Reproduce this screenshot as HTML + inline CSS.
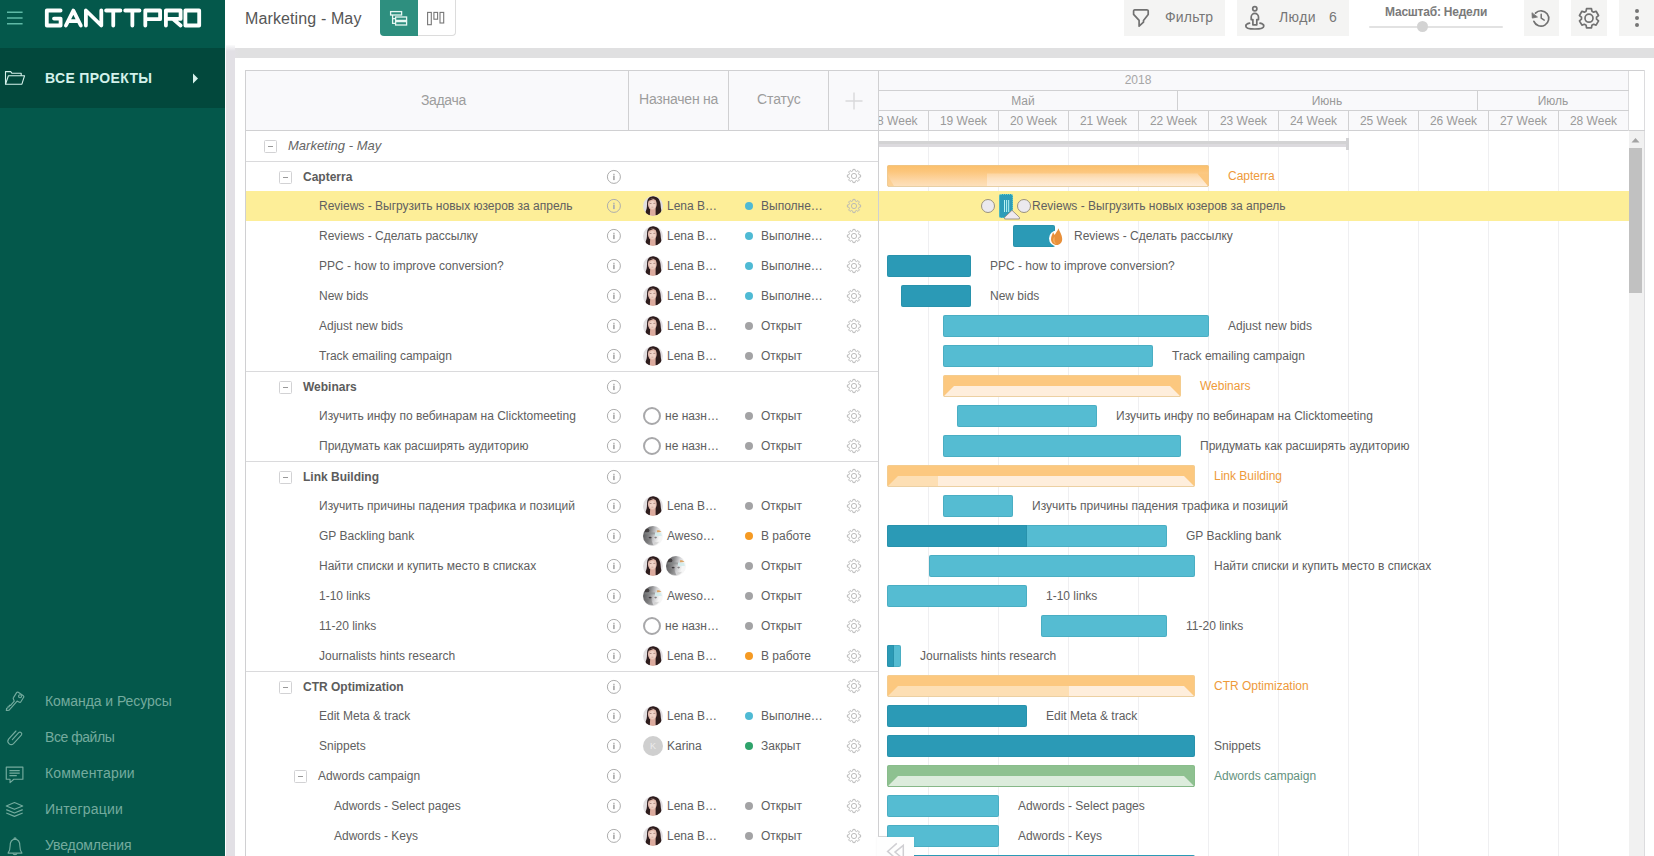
<!DOCTYPE html><html><head><meta charset="utf-8"><title>GanttPRO</title><style>
*{box-sizing:border-box;margin:0;padding:0}
html,body{width:1654px;height:856px;overflow:hidden;background:#fff}
body{font-family:"Liberation Sans",sans-serif;font-size:12px;color:#5a5a5a;position:relative}
.abs{position:absolute}
.t{position:absolute;white-space:nowrap;line-height:1}
#side{position:absolute;left:0;top:0;width:225px;height:856px;background:#04584b}
#side .band{position:absolute;left:0;top:48px;width:225px;height:60px;background:#02483c}
#side .mi{position:absolute;left:45px;color:#74ab9e;font-size:14px;white-space:nowrap;line-height:1}
#vstrip{position:absolute;left:226px;top:45px;width:9px;height:811px;background:linear-gradient(to bottom,#fbfbfc 0,#e2e0e5 6px)}
#hstrip{position:absolute;left:235px;top:48px;width:1419px;height:10px;background:linear-gradient(to right,#e2e1e4 0,#e0e0e1 6px)}
.tb{position:absolute;top:0;height:36px;background:#f4f4f3}
.hdr{position:absolute;background:#f9f9fb}
.vl{position:absolute;width:1px;background:#d0d0d2}
.hl{position:absolute;height:1px;background:#d0d0d2}
.row{position:absolute;left:246px;width:632px;height:30px}
.rt{position:absolute;top:9px;white-space:nowrap;line-height:12px;font-size:12px;color:#606060}
.b{font-weight:bold;color:#5c5c5c}
.exp{position:absolute;top:8.5px;width:13px;height:13px;border:1px solid #d2d2d4;border-radius:1.5px;background:#fff}
.exp:after{content:"";position:absolute;left:3px;top:5px;width:5px;height:1px;background:#999}
.dot{position:absolute;left:499px;top:11px;width:8px;height:8px;border-radius:50%}
.ic{position:absolute}
.av{width:20px;height:20px;border-radius:50%;overflow:hidden}
.av svg{display:block}
.bar{position:absolute;height:22px;border-radius:2px;box-shadow:inset 0 0 0 1px rgba(30,110,130,0.18)}
.lt{background:#55bcd2}
.dk{background:#2b9ab6}
.bl{position:absolute;white-space:nowrap;line-height:12px;font-size:12px;color:#606060}
.gl{position:absolute;top:131px;width:1px;height:725px;background:#efeff1}
.wk{position:absolute;top:115px;font-size:12px;color:#9a9a9a;text-align:center;white-space:nowrap;line-height:12px}
</style></head><body>
<svg width="0" height="0" style="position:absolute"><defs><linearGradient id="gb" x1="0" y1="0" x2="1" y2="0.25"><stop offset="0" stop-color="#4a4a4c"/><stop offset="0.4" stop-color="#858587"/><stop offset="0.68" stop-color="#d2d2d4"/><stop offset="0.9" stop-color="#f6f6f6"/></linearGradient><linearGradient id="pg1" x1="0" y1="0" x2="0" y2="1"><stop offset="0" stop-color="#fbbf6a"/><stop offset="0.3" stop-color="#fcc67c"/><stop offset="0.7" stop-color="#fdd7a6"/><stop offset="1" stop-color="#fde1be"/></linearGradient><linearGradient id="pg2" x1="0" y1="0" x2="0" y2="1"><stop offset="0" stop-color="#fdd5a0"/><stop offset="0.4" stop-color="#fde2bf"/><stop offset="1" stop-color="#feedda"/></linearGradient><filter id="bl" x="-10%" y="-10%" width="120%" height="120%"><feGaussianBlur stdDeviation="0.45"/></filter></defs></svg>
<div id="side"><div class="band"></div>
<svg class="abs" style="left:6px;top:10px" width="18" height="16" viewBox="0 0 18 16"><g stroke="#5fb9a6" stroke-width="1.5"><path d="M1 2.2h15.6M1 8h15.6M1 13.8h15.6"/></g></svg>
<svg class="abs" style="left:0;top:0" width="225" height="40" viewBox="0 0 225 40" fill="none" stroke="#fdfffe" stroke-width="3.8" stroke-linejoin="round" stroke-linecap="round"><path d="M60.6 10.5H46.8V25.5H60.6V18.6H54M65.9 25.5L73.35 10.6L80.8 25.5M69.4 21.2H77.3M85.9 25.5V10.5L101.3 25.5V10.5M106.1 10.5H120.4M113.25 10.5V25.5M125.2 10.5H139.5M132.35 10.5V25.5M145.3 25.5V10.5H160.1V19.2H145.3M165.9 25.5V10.5H180.6V18.9H165.9M172.8 18.9L180.6 25.5M185.4 10.5H199.2V25.5H185.4Z"/></svg>
<svg class="abs" style="left:4px;top:70px" width="22" height="16" viewBox="0 0 22 16" fill="none" stroke="#d6f2ec" stroke-width="1.1" stroke-linejoin="round"><path d="M1.5 14.2V1.6h5.2l1.3 1.7h9.2v2.4"/><path d="M1.5 14.2L4.4 5.7h16.2l-2.7 8.5z"/></svg>
<div class="t" id="allp" style="left:45px;top:71px;font-size:14px;font-weight:bold;color:#d3f1ea;letter-spacing:0.35px">ВСЕ ПРОЕКТЫ</div>
<svg class="abs" style="left:192px;top:73px" width="7" height="11" viewBox="0 0 7 11"><path d="M1 0.5L6 5.5L1 10.5z" fill="#d6f2ec"/></svg>
<svg class="abs" style="left:5px;top:691px" width="20" height="20" viewBox="0 0 19 19"><g fill="none" stroke="#74ab9e" stroke-width="1.1" stroke-linejoin="round"><path d="M12.6 1.2l4.8 3.4c0.5 0.4 0.6 0.9 0.3 1.4l-2.6 4.2c-0.3 0.5-0.9 0.6-1.4 0.4l-2.2-1-7.6 8.6-2.6 0.4 0.2-2.2 1.2-0.2 0.1-1.2 1.2-0.1 0.1-1.2 1.2-0.1 3.5-4-0.9-2.2c-0.2-0.5 0-1 0.3-1.4l2.8-4.4c0.4-0.6 1-0.7 1.6-0.4z"/><circle cx="14.3" cy="5" r="1.4"/></g></svg>
<div class="mi" style="top:694px;letter-spacing:-0.07px">Команда и Ресурсы</div>
<svg class="abs" style="left:5px;top:727px" width="20" height="20" viewBox="0 0 19 19"><g fill="none" stroke="#74ab9e" stroke-width="1.1" stroke-linecap="round"><path d="M7 12l6-6.6a1.7 1.7 0 0 1 2.5 2.3l-7.4 8.1a3.2 3.2 0 0 1-4.7-4.3l7-7.7"/></g></svg>
<div class="mi" style="top:730px;letter-spacing:-0.45px">Все файлы</div>
<svg class="abs" style="left:5px;top:766px" width="20" height="20" viewBox="0 0 19 19"><g fill="none" stroke="#74ab9e" stroke-width="1.1" stroke-linejoin="round"><path d="M1.2 1h15.8v11.6H8.4L4.8 15.8V12.6H1.2z"/><path d="M4.2 4.4h9.8M4.2 6.8h9.8M4.2 9.2h7"/></g></svg>
<div class="mi" style="top:766px;letter-spacing:0.15px">Комментарии</div>
<svg class="abs" style="left:5px;top:801px" width="20" height="20" viewBox="0 0 19 19"><g fill="none" stroke="#74ab9e" stroke-width="1.1" stroke-linejoin="round"><path d="M9 1.5l7.8 3.2-7.8 3.2-7.8-3.2z"/><path d="M1.2 8.2l7.8 3.2 7.8-3.2M1.2 11.4l7.8 3.2 7.8-3.2"/></g></svg>
<div class="mi" style="top:802px;letter-spacing:0.18px">Интеграции</div>
<svg class="abs" style="left:5px;top:836px" width="20" height="20" viewBox="0 0 19 19"><g fill="none" stroke="#74ab9e" stroke-width="1.1" stroke-linejoin="round"><path d="M9.5 3c3.2 0.4 4.6 2.8 4.6 6.2 0 3.2 0.8 5.4 2 7H2.9c1.2-1.6 2-3.8 2-7 0-3.4 1.4-5.800 4.6-6.2z"/><path d="M8.5 2.800c0-1.400 2-1.400 2 0"/><path d="M7.600 16.400c0.200 1.800 3.600 1.800 3.800 0"/></g></svg>
<div class="mi" style="top:838px;letter-spacing:-0.1px">Уведомления</div>
</div>
<div id="vstrip"></div><div id="hstrip"></div>
<div class="t" id="title" style="left:245px;top:9.5px;letter-spacing:0.12px;font-size:16px;color:#565656;line-height:18px">Marketing - May</div>
<div class="abs" style="left:380px;top:0;width:38px;height:36px;background:#2e8f7f;border-radius:0 0 0 4px"></div>
<div class="abs" style="left:418px;top:0;width:38px;height:36px;background:#fff;border:1px solid #dcdcdc;border-left:none;border-top:none;border-radius:0 0 4px 0"></div>
<svg class="abs" style="left:389px;top:9px" width="20" height="18" viewBox="0 0 20 18" fill="none" stroke="#e6f7f3" stroke-width="1.3"><rect x="1.6" y="2.6" width="11" height="3.4"/><rect x="6.6" y="8" width="11" height="3.4"/><rect x="6.6" y="12.6" width="11" height="3.4"/><path d="M3.6 6v8.3h3M3.6 9.7h3"/></svg>
<svg class="abs" style="left:426px;top:10px" width="20" height="16" viewBox="0 0 20 16" fill="none" stroke="#777" stroke-width="1.1"><rect x="1.6" y="2.4" width="3.7" height="12.3"/><rect x="7.9" y="2.4" width="3.7" height="6.800"/><rect x="14" y="2.4" width="3.7" height="10.600"/></svg>
<div class="tb" style="left:1124px;width:101px"></div>
<div class="t" id="filt" style="left:1165px;top:9px;letter-spacing:0.2px;font-size:14px;color:#777;line-height:16px">Фильтр</div>
<div class="tb" style="left:1237px;width:112px"></div>
<div class="t" id="ppl" style="left:1279px;top:9px;letter-spacing:0.4px;font-size:14px;color:#777;line-height:16px">Люди</div>
<div class="t" id="six" style="left:1329px;top:9px;font-size:14px;color:#777;line-height:16px">6</div>
<div class="t" id="scale" style="left:1385px;top:5px;font-size:12px;font-weight:bold;letter-spacing:-0.22px;color:#7a7a7a;line-height:14px">Масштаб: Недели</div>
<div class="abs" style="left:1369px;top:26px;width:134px;height:2px;background:#e2e2e2;border-radius:1px"></div>
<div class="abs" style="left:1417px;top:21px;width:11px;height:11px;background:#d3d3d3;border-radius:50%"></div>
<div class="tb" style="left:1524px;width:35px"></div>
<div class="tb" style="left:1571px;width:36px"></div>
<svg class="abs" style="left:1577px;top:6px" width="24" height="24" viewBox="0 0 24 24" fill="none" stroke="#717171" stroke-width="1.7" stroke-linejoin="round"><path d="M9.09 5.18 L9.54 2.61 L14.46 2.61 L14.91 5.18 L16.63 6.17 L19.07 5.27 L21.54 9.54 L19.53 11.21 L19.53 13.19 L21.54 14.86 L19.07 19.13 L16.63 18.23 L14.91 19.22 L14.46 21.79 L9.54 21.79 L9.09 19.22 L7.37 18.23 L4.93 19.13 L2.46 14.86 L4.47 13.19 L4.47 11.21 L2.46 9.54 L4.93 5.27 L7.37 6.17Z"/><circle cx="12" cy="12.2" r="4"/></svg>
<div class="tb" style="left:1619px;width:35px"></div>
<div class="abs" style="left:1634.8px;top:8.600000000000001px;width:4.4px;height:4.4px;border-radius:50%;background:#757575"></div>
<div class="abs" style="left:1634.8px;top:15.8px;width:4.4px;height:4.4px;border-radius:50%;background:#757575"></div>
<div class="abs" style="left:1634.8px;top:22.900000000000002px;width:4.4px;height:4.4px;border-radius:50%;background:#757575"></div>
<svg class="abs" style="left:1124px;top:0" width="530" height="40" viewBox="1124 0 530 40" fill="none" stroke="#717171" stroke-width="1.7" stroke-linejoin="round" stroke-linecap="round"><path d="M1135 9.8h11.8a1.4 1.4 0 0 1 1.4 1.4v3.2l-4.7 6v1.8l-4.4 4v-5.8l-5.5-6v-3.2a1.4 1.4 0 0 1 1.4-1.4z"/><circle cx="1254.8" cy="8.8" r="2.1"/><path d="M1251.2 19.6v-2.5a3.65 3.65 0 0 1 7.3 0v2.5h-1.7v5.2h-3.9v-5.2z"/><path d="M1249.6 23.2c-2.6 0.6-3.8 1.6-3.8 2.7 0 1.9 4 3.1 9 3.1s9-1.2 9-3.1c0-1.1-1.2-2.1-3.8-2.7"/><path d="M1533.9 21.4a7.7 7.7 0 1 0 1.6-8.3"/><path d="M1532 13.1l0.3 5 4.8-1z" fill="#717171" stroke-width="0.8"/><path d="M1541.2 14.2v4l3 1.9" stroke-width="1.5"/></svg>
<div class="hdr" style="left:246px;top:71px;width:633px;height:59px"></div>
<div class="hdr" style="left:879px;top:71px;width:750px;height:59px"></div>
<div class="abs" style="left:1629px;top:131px;width:15px;height:725px;background:#f1f1f1"></div>
<div class="abs" style="left:1629px;top:148px;width:13px;height:145px;background:#c1c1c1"></div>
<svg class="abs" style="left:1631px;top:137px" width="9" height="6" viewBox="0 0 9 6"><path d="M0.5 5.5L4.5 1L8.5 5.5z" fill="#a3a3a3"/></svg>
<div class="gl" style="left:928px"></div>
<div class="gl" style="left:998px"></div>
<div class="gl" style="left:1068px"></div>
<div class="gl" style="left:1138px"></div>
<div class="gl" style="left:1208px"></div>
<div class="gl" style="left:1278px"></div>
<div class="gl" style="left:1348px"></div>
<div class="gl" style="left:1418px"></div>
<div class="gl" style="left:1488px"></div>
<div class="gl" style="left:1558px"></div>
<div class="abs" style="left:246px;top:191px;width:1383px;height:30px;background:#fdee98"></div>
<div class="hl" style="left:245px;top:70px;width:1400px"></div>
<div class="vl" style="left:245px;top:70px;height:786px"></div>
<div class="vl" style="left:1644px;top:70px;height:786px;background:#dcdcde"></div>
<div class="hl" style="left:245px;top:130px;width:1400px"></div>
<div class="vl" style="left:628px;top:71px;height:59px"></div>
<div class="vl" style="left:728px;top:71px;height:59px"></div>
<div class="vl" style="left:828px;top:71px;height:59px"></div>
<div class="vl" style="left:878px;top:70px;height:786px"></div>
<div class="vl" style="left:1628px;top:71px;height:60px;background:#dcdcde"></div>
<div class="hl" style="left:879px;top:90px;width:750px"></div>
<div class="hl" style="left:879px;top:110px;width:750px"></div>
<div class="vl" style="left:1177px;top:91px;height:19px"></div>
<div class="vl" style="left:1477px;top:91px;height:19px"></div>
<div class="vl" style="left:928px;top:111px;height:19px"></div>
<div class="vl" style="left:998px;top:111px;height:19px"></div>
<div class="vl" style="left:1068px;top:111px;height:19px"></div>
<div class="vl" style="left:1138px;top:111px;height:19px"></div>
<div class="vl" style="left:1208px;top:111px;height:19px"></div>
<div class="vl" style="left:1278px;top:111px;height:19px"></div>
<div class="vl" style="left:1348px;top:111px;height:19px"></div>
<div class="vl" style="left:1418px;top:111px;height:19px"></div>
<div class="vl" style="left:1488px;top:111px;height:19px"></div>
<div class="vl" style="left:1558px;top:111px;height:19px"></div>
<div class="t" id="h1" style="left:421px;top:92px;letter-spacing:-0.35px;font-size:14px;color:#9d9d9d;line-height:16px">Задача</div>
<div class="t" id="h2" style="left:639px;top:91px;letter-spacing:-0.22px;font-size:14px;color:#9d9d9d;line-height:16px">Назначен на</div>
<div class="t" id="h3" style="left:757px;top:91px;letter-spacing:-0.1px;font-size:14px;color:#9d9d9d;line-height:16px">Статус</div>
<svg class="abs" style="left:845px;top:92px" width="18" height="18" viewBox="0 0 18 18"><path d="M9 0.5v17M0.5 9h17" stroke="#d9d9db" stroke-width="1.4"/></svg>
<div class="wk" style="left:1108px;width:60px;top:74px;color:#a6a6a6">2018</div>
<div class="wk" style="left:993px;width:60px;top:95px">Май</div>
<div class="wk" style="left:1297px;width:60px;top:95px">Июнь</div>
<div class="wk" style="left:1523px;width:60px;top:95px">Июль</div>
<div class="abs" style="left:879px;top:111px;width:49px;height:19px;overflow:hidden"><div class="wk" style="left:-20px;width:70px;top:4px">18 Week</div></div>
<div class="wk" style="left:929px;width:69px">19 Week</div>
<div class="wk" style="left:999px;width:69px">20 Week</div>
<div class="wk" style="left:1069px;width:69px">21 Week</div>
<div class="wk" style="left:1139px;width:69px">22 Week</div>
<div class="wk" style="left:1209px;width:69px">23 Week</div>
<div class="wk" style="left:1279px;width:69px">24 Week</div>
<div class="wk" style="left:1349px;width:69px">25 Week</div>
<div class="wk" style="left:1419px;width:69px">26 Week</div>
<div class="wk" style="left:1489px;width:69px">27 Week</div>
<div class="wk" style="left:1559px;width:69px">28 Week</div>
<div class="row" style="top:131px"><div class="exp" style="left:18px"></div><div class="rt" style="left:42px;top:8px;font-size:13px;line-height:13px;font-style:italic;color:#666">Marketing - May</div></div>
<div class="hl" style="left:246px;top:161px;width:632px;background:#dadadc"></div>
<div class="row" style="top:161px"><div class="exp" style="left:33px;top:9.5px"></div><div class="rt b" style="left:57px;top:10px">Capterra</div><svg class="ic" style="left:360px;top:8px" width="16" height="16" viewBox="0 0 16 16"><circle cx="7.900" cy="7.900" r="6.500" fill="none" stroke="#adadad" stroke-width="1"/><rect x="7" y="6.600" width="1.800" height="4.500" fill="#b0b0b0"/><rect x="7" y="4.800" width="1.800" height="1" fill="#b0b0b0"/></svg><svg class="ic" style="left:600px;top:7px" width="16" height="16" viewBox="0 0 16 16" fill="none" stroke="#b6b6b6" stroke-width="0.9" stroke-linejoin="round"><path d="M6.74 2.96 L6.95 1.38 L9.05 1.38 L9.26 2.96 L10.67 3.54 L11.94 2.58 L13.42 4.06 L12.46 5.33 L13.04 6.74 L14.62 6.95 L14.62 9.05 L13.04 9.26 L12.46 10.67 L13.42 11.94 L11.94 13.42 L10.67 12.46 L9.26 13.04 L9.05 14.62 L6.95 14.62 L6.74 13.04 L5.33 12.46 L4.06 13.42 L2.58 11.94 L3.54 10.67 L2.96 9.26 L1.38 9.05 L1.38 6.95 L2.96 6.74 L3.54 5.33 L2.58 4.06 L4.06 2.58 L5.33 3.54Z"/><circle cx="8" cy="8" r="2.6"/></svg></div>
<div class="row" style="top:191px"><div class="rt" style="left:73px">Reviews - Выгрузить новых юзеров за апрель</div><svg class="ic" style="left:360px;top:7px" width="16" height="16" viewBox="0 0 16 16"><circle cx="7.900" cy="7.900" r="6.500" fill="none" stroke="#adadad" stroke-width="1"/><rect x="7" y="6.600" width="1.800" height="4.500" fill="#b0b0b0"/><rect x="7" y="4.800" width="1.800" height="1" fill="#b0b0b0"/></svg><svg class="ic" style="left:600px;top:7px" width="16" height="16" viewBox="0 0 16 16" fill="none" stroke="#b6b6b6" stroke-width="0.9" stroke-linejoin="round"><path d="M6.74 2.96 L6.95 1.38 L9.05 1.38 L9.26 2.96 L10.67 3.54 L11.94 2.58 L13.42 4.06 L12.46 5.33 L13.04 6.74 L14.62 6.95 L14.62 9.05 L13.04 9.26 L12.46 10.67 L13.42 11.94 L11.94 13.42 L10.67 12.46 L9.26 13.04 L9.05 14.62 L6.95 14.62 L6.74 13.04 L5.33 12.46 L4.06 13.42 L2.58 11.94 L3.54 10.67 L2.96 9.26 L1.38 9.05 L1.38 6.95 L2.96 6.74 L3.54 5.33 L2.58 4.06 L4.06 2.58 L5.33 3.54Z"/><circle cx="8" cy="8" r="2.6"/></svg><div class="ic av" style="left:397px;top:5px"><svg width="20" height="20" viewBox="0 0 20 20"><rect width="20" height="20" fill="#e2dfe1"/><g filter="url(#bl)"><path d="M9.8 0.2C6 0.2 4.3 3.2 4.1 6.6c-0.2 3.4 0 5.4-0.9 7.4-1.2 2.4-0.6 4.6 1.8 5.6h11c2.4-1 2.8-3.6 2.2-6-0.6-2.6-0.4-5-1.2-7.8C16.2 2.4 13.6 0.2 9.8 0.2z" fill="#2d1c1f"/><path d="M7.2 12.4h5.4V20H6.8z" fill="#dcab9e"/><ellipse cx="9.4" cy="8.1" rx="4.5" ry="5.9" fill="#e3baad"/><ellipse cx="9.5" cy="8.8" rx="3" ry="3.9" fill="#efd3c9"/><path d="M13 2.6c1 2.4 1.1 8.2 0.2 11.6l1.2 0.4c1.2-4 0.8-9.6-0.4-12.2z" fill="#2d1c1f"/><path d="M5.4 4.6c1-1.6 2.6-2.4 4.2-2.4 1.6 0 2.8 0.5 3.6 1.7-1.2-0.1-2.3-0.4-3-0.9-1.2 0.9-3.2 1.4-4.8 1.6z" fill="#3a2626"/><ellipse cx="7.6" cy="7.5" rx="1.1" ry="0.5" fill="#a8857e"/><ellipse cx="11.3" cy="7.3" rx="1.1" ry="0.5" fill="#a8857e"/><ellipse cx="9.4" cy="11.1" rx="1.5" ry="0.45" fill="#c4948b"/></g></svg></div><div class="rt" style="left:421px">Lena B…</div><div class="dot" style="background:#4fbad4"></div><div class="rt" style="left:515px">Выполне…</div></div>
<div class="row" style="top:221px"><div class="rt" style="left:73px">Reviews - Сделать рассылку</div><svg class="ic" style="left:360px;top:7px" width="16" height="16" viewBox="0 0 16 16"><circle cx="7.900" cy="7.900" r="6.500" fill="none" stroke="#adadad" stroke-width="1"/><rect x="7" y="6.600" width="1.800" height="4.500" fill="#b0b0b0"/><rect x="7" y="4.800" width="1.800" height="1" fill="#b0b0b0"/></svg><svg class="ic" style="left:600px;top:7px" width="16" height="16" viewBox="0 0 16 16" fill="none" stroke="#b6b6b6" stroke-width="0.9" stroke-linejoin="round"><path d="M6.74 2.96 L6.95 1.38 L9.05 1.38 L9.26 2.96 L10.67 3.54 L11.94 2.58 L13.42 4.06 L12.46 5.33 L13.04 6.74 L14.62 6.95 L14.62 9.05 L13.04 9.26 L12.46 10.67 L13.42 11.94 L11.94 13.42 L10.67 12.46 L9.26 13.04 L9.05 14.62 L6.95 14.62 L6.74 13.04 L5.33 12.46 L4.06 13.42 L2.58 11.94 L3.54 10.67 L2.96 9.26 L1.38 9.05 L1.38 6.95 L2.96 6.74 L3.54 5.33 L2.58 4.06 L4.06 2.58 L5.33 3.54Z"/><circle cx="8" cy="8" r="2.6"/></svg><div class="ic av" style="left:397px;top:5px"><svg width="20" height="20" viewBox="0 0 20 20"><rect width="20" height="20" fill="#e2dfe1"/><g filter="url(#bl)"><path d="M9.8 0.2C6 0.2 4.3 3.2 4.1 6.6c-0.2 3.4 0 5.4-0.9 7.4-1.2 2.4-0.6 4.6 1.8 5.6h11c2.4-1 2.8-3.6 2.2-6-0.6-2.6-0.4-5-1.2-7.8C16.2 2.4 13.6 0.2 9.8 0.2z" fill="#2d1c1f"/><path d="M7.2 12.4h5.4V20H6.8z" fill="#dcab9e"/><ellipse cx="9.4" cy="8.1" rx="4.5" ry="5.9" fill="#e3baad"/><ellipse cx="9.5" cy="8.8" rx="3" ry="3.9" fill="#efd3c9"/><path d="M13 2.6c1 2.4 1.1 8.2 0.2 11.6l1.2 0.4c1.2-4 0.8-9.6-0.4-12.2z" fill="#2d1c1f"/><path d="M5.4 4.6c1-1.6 2.6-2.4 4.2-2.4 1.6 0 2.8 0.5 3.6 1.7-1.2-0.1-2.3-0.4-3-0.9-1.2 0.9-3.2 1.4-4.8 1.6z" fill="#3a2626"/><ellipse cx="7.6" cy="7.5" rx="1.1" ry="0.5" fill="#a8857e"/><ellipse cx="11.3" cy="7.3" rx="1.1" ry="0.5" fill="#a8857e"/><ellipse cx="9.4" cy="11.1" rx="1.5" ry="0.45" fill="#c4948b"/></g></svg></div><div class="rt" style="left:421px">Lena B…</div><div class="dot" style="background:#4fbad4"></div><div class="rt" style="left:515px">Выполне…</div></div>
<div class="row" style="top:251px"><div class="rt" style="left:73px">PPC - how to improve conversion?</div><svg class="ic" style="left:360px;top:7px" width="16" height="16" viewBox="0 0 16 16"><circle cx="7.900" cy="7.900" r="6.500" fill="none" stroke="#adadad" stroke-width="1"/><rect x="7" y="6.600" width="1.800" height="4.500" fill="#b0b0b0"/><rect x="7" y="4.800" width="1.800" height="1" fill="#b0b0b0"/></svg><svg class="ic" style="left:600px;top:7px" width="16" height="16" viewBox="0 0 16 16" fill="none" stroke="#b6b6b6" stroke-width="0.9" stroke-linejoin="round"><path d="M6.74 2.96 L6.95 1.38 L9.05 1.38 L9.26 2.96 L10.67 3.54 L11.94 2.58 L13.42 4.06 L12.46 5.33 L13.04 6.74 L14.62 6.95 L14.62 9.05 L13.04 9.26 L12.46 10.67 L13.42 11.94 L11.94 13.42 L10.67 12.46 L9.26 13.04 L9.05 14.62 L6.95 14.62 L6.74 13.04 L5.33 12.46 L4.06 13.42 L2.58 11.94 L3.54 10.67 L2.96 9.26 L1.38 9.05 L1.38 6.95 L2.96 6.74 L3.54 5.33 L2.58 4.06 L4.06 2.58 L5.33 3.54Z"/><circle cx="8" cy="8" r="2.6"/></svg><div class="ic av" style="left:397px;top:5px"><svg width="20" height="20" viewBox="0 0 20 20"><rect width="20" height="20" fill="#e2dfe1"/><g filter="url(#bl)"><path d="M9.8 0.2C6 0.2 4.3 3.2 4.1 6.6c-0.2 3.4 0 5.4-0.9 7.4-1.2 2.4-0.6 4.6 1.8 5.6h11c2.4-1 2.8-3.6 2.2-6-0.6-2.6-0.4-5-1.2-7.8C16.2 2.4 13.6 0.2 9.8 0.2z" fill="#2d1c1f"/><path d="M7.2 12.4h5.4V20H6.8z" fill="#dcab9e"/><ellipse cx="9.4" cy="8.1" rx="4.5" ry="5.9" fill="#e3baad"/><ellipse cx="9.5" cy="8.8" rx="3" ry="3.9" fill="#efd3c9"/><path d="M13 2.6c1 2.4 1.1 8.2 0.2 11.6l1.2 0.4c1.2-4 0.8-9.6-0.4-12.2z" fill="#2d1c1f"/><path d="M5.4 4.6c1-1.6 2.6-2.4 4.2-2.4 1.6 0 2.8 0.5 3.6 1.7-1.2-0.1-2.3-0.4-3-0.9-1.2 0.9-3.2 1.4-4.8 1.6z" fill="#3a2626"/><ellipse cx="7.6" cy="7.5" rx="1.1" ry="0.5" fill="#a8857e"/><ellipse cx="11.3" cy="7.3" rx="1.1" ry="0.5" fill="#a8857e"/><ellipse cx="9.4" cy="11.1" rx="1.5" ry="0.45" fill="#c4948b"/></g></svg></div><div class="rt" style="left:421px">Lena B…</div><div class="dot" style="background:#4fbad4"></div><div class="rt" style="left:515px">Выполне…</div></div>
<div class="row" style="top:281px"><div class="rt" style="left:73px">New bids</div><svg class="ic" style="left:360px;top:7px" width="16" height="16" viewBox="0 0 16 16"><circle cx="7.900" cy="7.900" r="6.500" fill="none" stroke="#adadad" stroke-width="1"/><rect x="7" y="6.600" width="1.800" height="4.500" fill="#b0b0b0"/><rect x="7" y="4.800" width="1.800" height="1" fill="#b0b0b0"/></svg><svg class="ic" style="left:600px;top:7px" width="16" height="16" viewBox="0 0 16 16" fill="none" stroke="#b6b6b6" stroke-width="0.9" stroke-linejoin="round"><path d="M6.74 2.96 L6.95 1.38 L9.05 1.38 L9.26 2.96 L10.67 3.54 L11.94 2.58 L13.42 4.06 L12.46 5.33 L13.04 6.74 L14.62 6.95 L14.62 9.05 L13.04 9.26 L12.46 10.67 L13.42 11.94 L11.94 13.42 L10.67 12.46 L9.26 13.04 L9.05 14.62 L6.95 14.62 L6.74 13.04 L5.33 12.46 L4.06 13.42 L2.58 11.94 L3.54 10.67 L2.96 9.26 L1.38 9.05 L1.38 6.95 L2.96 6.74 L3.54 5.33 L2.58 4.06 L4.06 2.58 L5.33 3.54Z"/><circle cx="8" cy="8" r="2.6"/></svg><div class="ic av" style="left:397px;top:5px"><svg width="20" height="20" viewBox="0 0 20 20"><rect width="20" height="20" fill="#e2dfe1"/><g filter="url(#bl)"><path d="M9.8 0.2C6 0.2 4.3 3.2 4.1 6.6c-0.2 3.4 0 5.4-0.9 7.4-1.2 2.4-0.6 4.6 1.8 5.6h11c2.4-1 2.8-3.6 2.2-6-0.6-2.6-0.4-5-1.2-7.8C16.2 2.4 13.6 0.2 9.8 0.2z" fill="#2d1c1f"/><path d="M7.2 12.4h5.4V20H6.8z" fill="#dcab9e"/><ellipse cx="9.4" cy="8.1" rx="4.5" ry="5.9" fill="#e3baad"/><ellipse cx="9.5" cy="8.8" rx="3" ry="3.9" fill="#efd3c9"/><path d="M13 2.6c1 2.4 1.1 8.2 0.2 11.6l1.2 0.4c1.2-4 0.8-9.6-0.4-12.2z" fill="#2d1c1f"/><path d="M5.4 4.6c1-1.6 2.6-2.4 4.2-2.4 1.6 0 2.8 0.5 3.6 1.7-1.2-0.1-2.3-0.4-3-0.9-1.2 0.9-3.2 1.4-4.8 1.6z" fill="#3a2626"/><ellipse cx="7.6" cy="7.5" rx="1.1" ry="0.5" fill="#a8857e"/><ellipse cx="11.3" cy="7.3" rx="1.1" ry="0.5" fill="#a8857e"/><ellipse cx="9.4" cy="11.1" rx="1.5" ry="0.45" fill="#c4948b"/></g></svg></div><div class="rt" style="left:421px">Lena B…</div><div class="dot" style="background:#4fbad4"></div><div class="rt" style="left:515px">Выполне…</div></div>
<div class="row" style="top:311px"><div class="rt" style="left:73px">Adjust new bids</div><svg class="ic" style="left:360px;top:7px" width="16" height="16" viewBox="0 0 16 16"><circle cx="7.900" cy="7.900" r="6.500" fill="none" stroke="#adadad" stroke-width="1"/><rect x="7" y="6.600" width="1.800" height="4.500" fill="#b0b0b0"/><rect x="7" y="4.800" width="1.800" height="1" fill="#b0b0b0"/></svg><svg class="ic" style="left:600px;top:7px" width="16" height="16" viewBox="0 0 16 16" fill="none" stroke="#b6b6b6" stroke-width="0.9" stroke-linejoin="round"><path d="M6.74 2.96 L6.95 1.38 L9.05 1.38 L9.26 2.96 L10.67 3.54 L11.94 2.58 L13.42 4.06 L12.46 5.33 L13.04 6.74 L14.62 6.95 L14.62 9.05 L13.04 9.26 L12.46 10.67 L13.42 11.94 L11.94 13.42 L10.67 12.46 L9.26 13.04 L9.05 14.62 L6.95 14.62 L6.74 13.04 L5.33 12.46 L4.06 13.42 L2.58 11.94 L3.54 10.67 L2.96 9.26 L1.38 9.05 L1.38 6.95 L2.96 6.74 L3.54 5.33 L2.58 4.06 L4.06 2.58 L5.33 3.54Z"/><circle cx="8" cy="8" r="2.6"/></svg><div class="ic av" style="left:397px;top:5px"><svg width="20" height="20" viewBox="0 0 20 20"><rect width="20" height="20" fill="#e2dfe1"/><g filter="url(#bl)"><path d="M9.8 0.2C6 0.2 4.3 3.2 4.1 6.6c-0.2 3.4 0 5.4-0.9 7.4-1.2 2.4-0.6 4.6 1.8 5.6h11c2.4-1 2.8-3.6 2.2-6-0.6-2.6-0.4-5-1.2-7.8C16.2 2.4 13.6 0.2 9.8 0.2z" fill="#2d1c1f"/><path d="M7.2 12.4h5.4V20H6.8z" fill="#dcab9e"/><ellipse cx="9.4" cy="8.1" rx="4.5" ry="5.9" fill="#e3baad"/><ellipse cx="9.5" cy="8.8" rx="3" ry="3.9" fill="#efd3c9"/><path d="M13 2.6c1 2.4 1.1 8.2 0.2 11.6l1.2 0.4c1.2-4 0.8-9.6-0.4-12.2z" fill="#2d1c1f"/><path d="M5.4 4.6c1-1.6 2.6-2.4 4.2-2.4 1.6 0 2.8 0.5 3.6 1.7-1.2-0.1-2.3-0.4-3-0.9-1.2 0.9-3.2 1.4-4.8 1.6z" fill="#3a2626"/><ellipse cx="7.6" cy="7.5" rx="1.1" ry="0.5" fill="#a8857e"/><ellipse cx="11.3" cy="7.3" rx="1.1" ry="0.5" fill="#a8857e"/><ellipse cx="9.4" cy="11.1" rx="1.5" ry="0.45" fill="#c4948b"/></g></svg></div><div class="rt" style="left:421px">Lena B…</div><div class="dot" style="background:#a3a3a5"></div><div class="rt" style="left:515px">Открыт</div></div>
<div class="row" style="top:341px"><div class="rt" style="left:73px">Track emailing campaign</div><svg class="ic" style="left:360px;top:7px" width="16" height="16" viewBox="0 0 16 16"><circle cx="7.900" cy="7.900" r="6.500" fill="none" stroke="#adadad" stroke-width="1"/><rect x="7" y="6.600" width="1.800" height="4.500" fill="#b0b0b0"/><rect x="7" y="4.800" width="1.800" height="1" fill="#b0b0b0"/></svg><svg class="ic" style="left:600px;top:7px" width="16" height="16" viewBox="0 0 16 16" fill="none" stroke="#b6b6b6" stroke-width="0.9" stroke-linejoin="round"><path d="M6.74 2.96 L6.95 1.38 L9.05 1.38 L9.26 2.96 L10.67 3.54 L11.94 2.58 L13.42 4.06 L12.46 5.33 L13.04 6.74 L14.62 6.95 L14.62 9.05 L13.04 9.26 L12.46 10.67 L13.42 11.94 L11.94 13.42 L10.67 12.46 L9.26 13.04 L9.05 14.62 L6.95 14.62 L6.74 13.04 L5.33 12.46 L4.06 13.42 L2.58 11.94 L3.54 10.67 L2.96 9.26 L1.38 9.05 L1.38 6.95 L2.96 6.74 L3.54 5.33 L2.58 4.06 L4.06 2.58 L5.33 3.54Z"/><circle cx="8" cy="8" r="2.6"/></svg><div class="ic av" style="left:397px;top:5px"><svg width="20" height="20" viewBox="0 0 20 20"><rect width="20" height="20" fill="#e2dfe1"/><g filter="url(#bl)"><path d="M9.8 0.2C6 0.2 4.3 3.2 4.1 6.6c-0.2 3.4 0 5.4-0.9 7.4-1.2 2.4-0.6 4.6 1.8 5.6h11c2.4-1 2.8-3.6 2.2-6-0.6-2.6-0.4-5-1.2-7.8C16.2 2.4 13.6 0.2 9.8 0.2z" fill="#2d1c1f"/><path d="M7.2 12.4h5.4V20H6.8z" fill="#dcab9e"/><ellipse cx="9.4" cy="8.1" rx="4.5" ry="5.9" fill="#e3baad"/><ellipse cx="9.5" cy="8.8" rx="3" ry="3.9" fill="#efd3c9"/><path d="M13 2.6c1 2.4 1.1 8.2 0.2 11.6l1.2 0.4c1.2-4 0.8-9.6-0.4-12.2z" fill="#2d1c1f"/><path d="M5.4 4.6c1-1.6 2.6-2.4 4.2-2.4 1.6 0 2.8 0.5 3.6 1.7-1.2-0.1-2.3-0.4-3-0.9-1.2 0.9-3.2 1.4-4.8 1.6z" fill="#3a2626"/><ellipse cx="7.6" cy="7.5" rx="1.1" ry="0.5" fill="#a8857e"/><ellipse cx="11.3" cy="7.3" rx="1.1" ry="0.5" fill="#a8857e"/><ellipse cx="9.4" cy="11.1" rx="1.5" ry="0.45" fill="#c4948b"/></g></svg></div><div class="rt" style="left:421px">Lena B…</div><div class="dot" style="background:#a3a3a5"></div><div class="rt" style="left:515px">Открыт</div></div>
<div class="hl" style="left:246px;top:371px;width:632px;background:#dadadc"></div>
<div class="row" style="top:371px"><div class="exp" style="left:33px;top:9.5px"></div><div class="rt b" style="left:57px;top:10px">Webinars</div><svg class="ic" style="left:360px;top:8px" width="16" height="16" viewBox="0 0 16 16"><circle cx="7.900" cy="7.900" r="6.500" fill="none" stroke="#adadad" stroke-width="1"/><rect x="7" y="6.600" width="1.800" height="4.500" fill="#b0b0b0"/><rect x="7" y="4.800" width="1.800" height="1" fill="#b0b0b0"/></svg><svg class="ic" style="left:600px;top:7px" width="16" height="16" viewBox="0 0 16 16" fill="none" stroke="#b6b6b6" stroke-width="0.9" stroke-linejoin="round"><path d="M6.74 2.96 L6.95 1.38 L9.05 1.38 L9.26 2.96 L10.67 3.54 L11.94 2.58 L13.42 4.06 L12.46 5.33 L13.04 6.74 L14.62 6.95 L14.62 9.05 L13.04 9.26 L12.46 10.67 L13.42 11.94 L11.94 13.42 L10.67 12.46 L9.26 13.04 L9.05 14.62 L6.95 14.62 L6.74 13.04 L5.33 12.46 L4.06 13.42 L2.58 11.94 L3.54 10.67 L2.96 9.26 L1.38 9.05 L1.38 6.95 L2.96 6.74 L3.54 5.33 L2.58 4.06 L4.06 2.58 L5.33 3.54Z"/><circle cx="8" cy="8" r="2.6"/></svg></div>
<div class="row" style="top:401px"><div class="rt" style="left:73px">Изучить инфу по вебинарам на Clicktomeeting</div><svg class="ic" style="left:360px;top:7px" width="16" height="16" viewBox="0 0 16 16"><circle cx="7.900" cy="7.900" r="6.500" fill="none" stroke="#adadad" stroke-width="1"/><rect x="7" y="6.600" width="1.800" height="4.500" fill="#b0b0b0"/><rect x="7" y="4.800" width="1.800" height="1" fill="#b0b0b0"/></svg><svg class="ic" style="left:600px;top:7px" width="16" height="16" viewBox="0 0 16 16" fill="none" stroke="#b6b6b6" stroke-width="0.9" stroke-linejoin="round"><path d="M6.74 2.96 L6.95 1.38 L9.05 1.38 L9.26 2.96 L10.67 3.54 L11.94 2.58 L13.42 4.06 L12.46 5.33 L13.04 6.74 L14.62 6.95 L14.62 9.05 L13.04 9.26 L12.46 10.67 L13.42 11.94 L11.94 13.42 L10.67 12.46 L9.26 13.04 L9.05 14.62 L6.95 14.62 L6.74 13.04 L5.33 12.46 L4.06 13.42 L2.58 11.94 L3.54 10.67 L2.96 9.26 L1.38 9.05 L1.38 6.95 L2.96 6.74 L3.54 5.33 L2.58 4.06 L4.06 2.58 L5.33 3.54Z"/><circle cx="8" cy="8" r="2.6"/></svg><div class="ic" style="left:397px;top:6px;width:18px;height:18px;border-radius:50%;background:#fff;border:2px solid #a8a8aa"></div><div class="rt" style="left:419px">не назн…</div><div class="dot" style="background:#a3a3a5"></div><div class="rt" style="left:515px">Открыт</div></div>
<div class="row" style="top:431px"><div class="rt" style="left:73px">Придумать как расширять аудиторию</div><svg class="ic" style="left:360px;top:7px" width="16" height="16" viewBox="0 0 16 16"><circle cx="7.900" cy="7.900" r="6.500" fill="none" stroke="#adadad" stroke-width="1"/><rect x="7" y="6.600" width="1.800" height="4.500" fill="#b0b0b0"/><rect x="7" y="4.800" width="1.800" height="1" fill="#b0b0b0"/></svg><svg class="ic" style="left:600px;top:7px" width="16" height="16" viewBox="0 0 16 16" fill="none" stroke="#b6b6b6" stroke-width="0.9" stroke-linejoin="round"><path d="M6.74 2.96 L6.95 1.38 L9.05 1.38 L9.26 2.96 L10.67 3.54 L11.94 2.58 L13.42 4.06 L12.46 5.33 L13.04 6.74 L14.62 6.95 L14.62 9.05 L13.04 9.26 L12.46 10.67 L13.42 11.94 L11.94 13.42 L10.67 12.46 L9.26 13.04 L9.05 14.62 L6.95 14.62 L6.74 13.04 L5.33 12.46 L4.06 13.42 L2.58 11.94 L3.54 10.67 L2.96 9.26 L1.38 9.05 L1.38 6.95 L2.96 6.74 L3.54 5.33 L2.58 4.06 L4.06 2.58 L5.33 3.54Z"/><circle cx="8" cy="8" r="2.6"/></svg><div class="ic" style="left:397px;top:6px;width:18px;height:18px;border-radius:50%;background:#fff;border:2px solid #a8a8aa"></div><div class="rt" style="left:419px">не назн…</div><div class="dot" style="background:#a3a3a5"></div><div class="rt" style="left:515px">Открыт</div></div>
<div class="hl" style="left:246px;top:461px;width:632px;background:#dadadc"></div>
<div class="row" style="top:461px"><div class="exp" style="left:33px;top:9.5px"></div><div class="rt b" style="left:57px;top:10px">Link Building</div><svg class="ic" style="left:360px;top:8px" width="16" height="16" viewBox="0 0 16 16"><circle cx="7.900" cy="7.900" r="6.500" fill="none" stroke="#adadad" stroke-width="1"/><rect x="7" y="6.600" width="1.800" height="4.500" fill="#b0b0b0"/><rect x="7" y="4.800" width="1.800" height="1" fill="#b0b0b0"/></svg><svg class="ic" style="left:600px;top:7px" width="16" height="16" viewBox="0 0 16 16" fill="none" stroke="#b6b6b6" stroke-width="0.9" stroke-linejoin="round"><path d="M6.74 2.96 L6.95 1.38 L9.05 1.38 L9.26 2.96 L10.67 3.54 L11.94 2.58 L13.42 4.06 L12.46 5.33 L13.04 6.74 L14.62 6.95 L14.62 9.05 L13.04 9.26 L12.46 10.67 L13.42 11.94 L11.94 13.42 L10.67 12.46 L9.26 13.04 L9.05 14.62 L6.95 14.62 L6.74 13.04 L5.33 12.46 L4.06 13.42 L2.58 11.94 L3.54 10.67 L2.96 9.26 L1.38 9.05 L1.38 6.95 L2.96 6.74 L3.54 5.33 L2.58 4.06 L4.06 2.58 L5.33 3.54Z"/><circle cx="8" cy="8" r="2.6"/></svg></div>
<div class="row" style="top:491px"><div class="rt" style="left:73px">Изучить причины падения трафика и позиций</div><svg class="ic" style="left:360px;top:7px" width="16" height="16" viewBox="0 0 16 16"><circle cx="7.900" cy="7.900" r="6.500" fill="none" stroke="#adadad" stroke-width="1"/><rect x="7" y="6.600" width="1.800" height="4.500" fill="#b0b0b0"/><rect x="7" y="4.800" width="1.800" height="1" fill="#b0b0b0"/></svg><svg class="ic" style="left:600px;top:7px" width="16" height="16" viewBox="0 0 16 16" fill="none" stroke="#b6b6b6" stroke-width="0.9" stroke-linejoin="round"><path d="M6.74 2.96 L6.95 1.38 L9.05 1.38 L9.26 2.96 L10.67 3.54 L11.94 2.58 L13.42 4.06 L12.46 5.33 L13.04 6.74 L14.62 6.95 L14.62 9.05 L13.04 9.26 L12.46 10.67 L13.42 11.94 L11.94 13.42 L10.67 12.46 L9.26 13.04 L9.05 14.62 L6.95 14.62 L6.74 13.04 L5.33 12.46 L4.06 13.42 L2.58 11.94 L3.54 10.67 L2.96 9.26 L1.38 9.05 L1.38 6.95 L2.96 6.74 L3.54 5.33 L2.58 4.06 L4.06 2.58 L5.33 3.54Z"/><circle cx="8" cy="8" r="2.6"/></svg><div class="ic av" style="left:397px;top:5px"><svg width="20" height="20" viewBox="0 0 20 20"><rect width="20" height="20" fill="#e2dfe1"/><g filter="url(#bl)"><path d="M9.8 0.2C6 0.2 4.3 3.2 4.1 6.6c-0.2 3.4 0 5.4-0.9 7.4-1.2 2.4-0.6 4.6 1.8 5.6h11c2.4-1 2.8-3.6 2.2-6-0.6-2.6-0.4-5-1.2-7.8C16.2 2.4 13.6 0.2 9.8 0.2z" fill="#2d1c1f"/><path d="M7.2 12.4h5.4V20H6.8z" fill="#dcab9e"/><ellipse cx="9.4" cy="8.1" rx="4.5" ry="5.9" fill="#e3baad"/><ellipse cx="9.5" cy="8.8" rx="3" ry="3.9" fill="#efd3c9"/><path d="M13 2.6c1 2.4 1.1 8.2 0.2 11.6l1.2 0.4c1.2-4 0.8-9.6-0.4-12.2z" fill="#2d1c1f"/><path d="M5.4 4.6c1-1.6 2.6-2.4 4.2-2.4 1.6 0 2.8 0.5 3.6 1.7-1.2-0.1-2.3-0.4-3-0.9-1.2 0.9-3.2 1.4-4.8 1.6z" fill="#3a2626"/><ellipse cx="7.6" cy="7.5" rx="1.1" ry="0.5" fill="#a8857e"/><ellipse cx="11.3" cy="7.3" rx="1.1" ry="0.5" fill="#a8857e"/><ellipse cx="9.4" cy="11.1" rx="1.5" ry="0.45" fill="#c4948b"/></g></svg></div><div class="rt" style="left:421px">Lena B…</div><div class="dot" style="background:#a3a3a5"></div><div class="rt" style="left:515px">Открыт</div></div>
<div class="row" style="top:521px"><div class="rt" style="left:73px">GP Backling bank</div><svg class="ic" style="left:360px;top:7px" width="16" height="16" viewBox="0 0 16 16"><circle cx="7.900" cy="7.900" r="6.500" fill="none" stroke="#adadad" stroke-width="1"/><rect x="7" y="6.600" width="1.800" height="4.500" fill="#b0b0b0"/><rect x="7" y="4.800" width="1.800" height="1" fill="#b0b0b0"/></svg><svg class="ic" style="left:600px;top:7px" width="16" height="16" viewBox="0 0 16 16" fill="none" stroke="#b6b6b6" stroke-width="0.9" stroke-linejoin="round"><path d="M6.74 2.96 L6.95 1.38 L9.05 1.38 L9.26 2.96 L10.67 3.54 L11.94 2.58 L13.42 4.06 L12.46 5.33 L13.04 6.74 L14.62 6.95 L14.62 9.05 L13.04 9.26 L12.46 10.67 L13.42 11.94 L11.94 13.42 L10.67 12.46 L9.26 13.04 L9.05 14.62 L6.95 14.62 L6.74 13.04 L5.33 12.46 L4.06 13.42 L2.58 11.94 L3.54 10.67 L2.96 9.26 L1.38 9.05 L1.38 6.95 L2.96 6.74 L3.54 5.33 L2.58 4.06 L4.06 2.58 L5.33 3.54Z"/><circle cx="8" cy="8" r="2.6"/></svg><div class="ic av" style="left:397px;top:5px"><svg width="20" height="20" viewBox="0 0 20 20"><rect width="20" height="20" fill="url(#gb)"/><g filter="url(#bl)"><ellipse cx="4" cy="4.4" rx="2.4" ry="1.9" fill="#2e262a" opacity="0.7"/><rect x="1.5" y="6.4" width="10.5" height="2" fill="#858888" opacity="0.55"/><path d="M12 6.8h6.2l0.6 3.2h-6.8z" fill="#d4ecec" opacity="0.9"/><path d="M13.8 4.5c1.8-0.6 3.4 0 4.6 1.6l-4.2 0.2z" fill="#dba465"/><ellipse cx="7.1" cy="11.6" rx="1.5" ry="0.9" fill="#353133" opacity="0.9"/><ellipse cx="12.6" cy="11.6" rx="1.3" ry="0.8" fill="#7a787a" opacity="0.9"/><path d="M1.5 13c1.5 3.8 5 6.2 9 6-1.4-2-2.2-4.4-1.8-6.4z" fill="#6c6a6c" opacity="0.45"/><path d="M11.4 15.4c1.4 1 3.2 1 4.8 0.2-1 2-3 3.2-5.4 3.4z" fill="#d0d0d0" opacity="0.8"/></g></svg></div><div class="rt" style="left:421px">Aweso…</div><div class="dot" style="background:#f59a23"></div><div class="rt" style="left:515px">В работе</div></div>
<div class="row" style="top:551px"><div class="rt" style="left:73px">Найти списки и купить место в списках</div><svg class="ic" style="left:360px;top:7px" width="16" height="16" viewBox="0 0 16 16"><circle cx="7.900" cy="7.900" r="6.500" fill="none" stroke="#adadad" stroke-width="1"/><rect x="7" y="6.600" width="1.800" height="4.500" fill="#b0b0b0"/><rect x="7" y="4.800" width="1.800" height="1" fill="#b0b0b0"/></svg><svg class="ic" style="left:600px;top:7px" width="16" height="16" viewBox="0 0 16 16" fill="none" stroke="#b6b6b6" stroke-width="0.9" stroke-linejoin="round"><path d="M6.74 2.96 L6.95 1.38 L9.05 1.38 L9.26 2.96 L10.67 3.54 L11.94 2.58 L13.42 4.06 L12.46 5.33 L13.04 6.74 L14.62 6.95 L14.62 9.05 L13.04 9.26 L12.46 10.67 L13.42 11.94 L11.94 13.42 L10.67 12.46 L9.26 13.04 L9.05 14.62 L6.95 14.62 L6.74 13.04 L5.33 12.46 L4.06 13.42 L2.58 11.94 L3.54 10.67 L2.96 9.26 L1.38 9.05 L1.38 6.95 L2.96 6.74 L3.54 5.33 L2.58 4.06 L4.06 2.58 L5.33 3.54Z"/><circle cx="8" cy="8" r="2.6"/></svg><div class="ic av" style="left:397px;top:5px"><svg width="20" height="20" viewBox="0 0 20 20"><rect width="20" height="20" fill="#e2dfe1"/><g filter="url(#bl)"><path d="M9.8 0.2C6 0.2 4.3 3.2 4.1 6.6c-0.2 3.4 0 5.4-0.9 7.4-1.2 2.4-0.6 4.6 1.8 5.6h11c2.4-1 2.8-3.6 2.2-6-0.6-2.6-0.4-5-1.2-7.8C16.2 2.4 13.6 0.2 9.8 0.2z" fill="#2d1c1f"/><path d="M7.2 12.4h5.4V20H6.8z" fill="#dcab9e"/><ellipse cx="9.4" cy="8.1" rx="4.5" ry="5.9" fill="#e3baad"/><ellipse cx="9.5" cy="8.8" rx="3" ry="3.9" fill="#efd3c9"/><path d="M13 2.6c1 2.4 1.1 8.2 0.2 11.6l1.2 0.4c1.2-4 0.8-9.6-0.4-12.2z" fill="#2d1c1f"/><path d="M5.4 4.6c1-1.6 2.6-2.4 4.2-2.4 1.6 0 2.8 0.5 3.6 1.7-1.2-0.1-2.3-0.4-3-0.9-1.2 0.9-3.2 1.4-4.8 1.6z" fill="#3a2626"/><ellipse cx="7.6" cy="7.5" rx="1.1" ry="0.5" fill="#a8857e"/><ellipse cx="11.3" cy="7.3" rx="1.1" ry="0.5" fill="#a8857e"/><ellipse cx="9.4" cy="11.1" rx="1.5" ry="0.45" fill="#c4948b"/></g></svg></div><div class="ic av" style="left:420px;top:5px"><svg width="20" height="20" viewBox="0 0 20 20"><rect width="20" height="20" fill="url(#gb)"/><g filter="url(#bl)"><ellipse cx="4" cy="4.4" rx="2.4" ry="1.9" fill="#2e262a" opacity="0.7"/><rect x="1.5" y="6.4" width="10.5" height="2" fill="#858888" opacity="0.55"/><path d="M12 6.8h6.2l0.6 3.2h-6.8z" fill="#d4ecec" opacity="0.9"/><path d="M13.8 4.5c1.8-0.6 3.4 0 4.6 1.6l-4.2 0.2z" fill="#dba465"/><ellipse cx="7.1" cy="11.6" rx="1.5" ry="0.9" fill="#353133" opacity="0.9"/><ellipse cx="12.6" cy="11.6" rx="1.3" ry="0.8" fill="#7a787a" opacity="0.9"/><path d="M1.5 13c1.5 3.8 5 6.2 9 6-1.4-2-2.2-4.4-1.8-6.4z" fill="#6c6a6c" opacity="0.45"/><path d="M11.4 15.4c1.4 1 3.2 1 4.8 0.2-1 2-3 3.2-5.4 3.4z" fill="#d0d0d0" opacity="0.8"/></g></svg></div><div class="dot" style="background:#a3a3a5"></div><div class="rt" style="left:515px">Открыт</div></div>
<div class="row" style="top:581px"><div class="rt" style="left:73px">1-10 links</div><svg class="ic" style="left:360px;top:7px" width="16" height="16" viewBox="0 0 16 16"><circle cx="7.900" cy="7.900" r="6.500" fill="none" stroke="#adadad" stroke-width="1"/><rect x="7" y="6.600" width="1.800" height="4.500" fill="#b0b0b0"/><rect x="7" y="4.800" width="1.800" height="1" fill="#b0b0b0"/></svg><svg class="ic" style="left:600px;top:7px" width="16" height="16" viewBox="0 0 16 16" fill="none" stroke="#b6b6b6" stroke-width="0.9" stroke-linejoin="round"><path d="M6.74 2.96 L6.95 1.38 L9.05 1.38 L9.26 2.96 L10.67 3.54 L11.94 2.58 L13.42 4.06 L12.46 5.33 L13.04 6.74 L14.62 6.95 L14.62 9.05 L13.04 9.26 L12.46 10.67 L13.42 11.94 L11.94 13.42 L10.67 12.46 L9.26 13.04 L9.05 14.62 L6.95 14.62 L6.74 13.04 L5.33 12.46 L4.06 13.42 L2.58 11.94 L3.54 10.67 L2.96 9.26 L1.38 9.05 L1.38 6.95 L2.96 6.74 L3.54 5.33 L2.58 4.06 L4.06 2.58 L5.33 3.54Z"/><circle cx="8" cy="8" r="2.6"/></svg><div class="ic av" style="left:397px;top:5px"><svg width="20" height="20" viewBox="0 0 20 20"><rect width="20" height="20" fill="url(#gb)"/><g filter="url(#bl)"><ellipse cx="4" cy="4.4" rx="2.4" ry="1.9" fill="#2e262a" opacity="0.7"/><rect x="1.5" y="6.4" width="10.5" height="2" fill="#858888" opacity="0.55"/><path d="M12 6.8h6.2l0.6 3.2h-6.8z" fill="#d4ecec" opacity="0.9"/><path d="M13.8 4.5c1.8-0.6 3.4 0 4.6 1.6l-4.2 0.2z" fill="#dba465"/><ellipse cx="7.1" cy="11.6" rx="1.5" ry="0.9" fill="#353133" opacity="0.9"/><ellipse cx="12.6" cy="11.6" rx="1.3" ry="0.8" fill="#7a787a" opacity="0.9"/><path d="M1.5 13c1.5 3.8 5 6.2 9 6-1.4-2-2.2-4.4-1.8-6.4z" fill="#6c6a6c" opacity="0.45"/><path d="M11.4 15.4c1.4 1 3.2 1 4.8 0.2-1 2-3 3.2-5.4 3.4z" fill="#d0d0d0" opacity="0.8"/></g></svg></div><div class="rt" style="left:421px">Aweso…</div><div class="dot" style="background:#a3a3a5"></div><div class="rt" style="left:515px">Открыт</div></div>
<div class="row" style="top:611px"><div class="rt" style="left:73px">11-20 links</div><svg class="ic" style="left:360px;top:7px" width="16" height="16" viewBox="0 0 16 16"><circle cx="7.900" cy="7.900" r="6.500" fill="none" stroke="#adadad" stroke-width="1"/><rect x="7" y="6.600" width="1.800" height="4.500" fill="#b0b0b0"/><rect x="7" y="4.800" width="1.800" height="1" fill="#b0b0b0"/></svg><svg class="ic" style="left:600px;top:7px" width="16" height="16" viewBox="0 0 16 16" fill="none" stroke="#b6b6b6" stroke-width="0.9" stroke-linejoin="round"><path d="M6.74 2.96 L6.95 1.38 L9.05 1.38 L9.26 2.96 L10.67 3.54 L11.94 2.58 L13.42 4.06 L12.46 5.33 L13.04 6.74 L14.62 6.95 L14.62 9.05 L13.04 9.26 L12.46 10.67 L13.42 11.94 L11.94 13.42 L10.67 12.46 L9.26 13.04 L9.05 14.62 L6.95 14.62 L6.74 13.04 L5.33 12.46 L4.06 13.42 L2.58 11.94 L3.54 10.67 L2.96 9.26 L1.38 9.05 L1.38 6.95 L2.96 6.74 L3.54 5.33 L2.58 4.06 L4.06 2.58 L5.33 3.54Z"/><circle cx="8" cy="8" r="2.6"/></svg><div class="ic" style="left:397px;top:6px;width:18px;height:18px;border-radius:50%;background:#fff;border:2px solid #a8a8aa"></div><div class="rt" style="left:419px">не назн…</div><div class="dot" style="background:#a3a3a5"></div><div class="rt" style="left:515px">Открыт</div></div>
<div class="row" style="top:641px"><div class="rt" style="left:73px">Journalists hints research</div><svg class="ic" style="left:360px;top:7px" width="16" height="16" viewBox="0 0 16 16"><circle cx="7.900" cy="7.900" r="6.500" fill="none" stroke="#adadad" stroke-width="1"/><rect x="7" y="6.600" width="1.800" height="4.500" fill="#b0b0b0"/><rect x="7" y="4.800" width="1.800" height="1" fill="#b0b0b0"/></svg><svg class="ic" style="left:600px;top:7px" width="16" height="16" viewBox="0 0 16 16" fill="none" stroke="#b6b6b6" stroke-width="0.9" stroke-linejoin="round"><path d="M6.74 2.96 L6.95 1.38 L9.05 1.38 L9.26 2.96 L10.67 3.54 L11.94 2.58 L13.42 4.06 L12.46 5.33 L13.04 6.74 L14.62 6.95 L14.62 9.05 L13.04 9.26 L12.46 10.67 L13.42 11.94 L11.94 13.42 L10.67 12.46 L9.26 13.04 L9.05 14.62 L6.95 14.62 L6.74 13.04 L5.33 12.46 L4.06 13.42 L2.58 11.94 L3.54 10.67 L2.96 9.26 L1.38 9.05 L1.38 6.95 L2.96 6.74 L3.54 5.33 L2.58 4.06 L4.06 2.58 L5.33 3.54Z"/><circle cx="8" cy="8" r="2.6"/></svg><div class="ic av" style="left:397px;top:5px"><svg width="20" height="20" viewBox="0 0 20 20"><rect width="20" height="20" fill="#e2dfe1"/><g filter="url(#bl)"><path d="M9.8 0.2C6 0.2 4.3 3.2 4.1 6.6c-0.2 3.4 0 5.4-0.9 7.4-1.2 2.4-0.6 4.6 1.8 5.6h11c2.4-1 2.8-3.6 2.2-6-0.6-2.6-0.4-5-1.2-7.8C16.2 2.4 13.6 0.2 9.8 0.2z" fill="#2d1c1f"/><path d="M7.2 12.4h5.4V20H6.8z" fill="#dcab9e"/><ellipse cx="9.4" cy="8.1" rx="4.5" ry="5.9" fill="#e3baad"/><ellipse cx="9.5" cy="8.8" rx="3" ry="3.9" fill="#efd3c9"/><path d="M13 2.6c1 2.4 1.1 8.2 0.2 11.6l1.2 0.4c1.2-4 0.8-9.6-0.4-12.2z" fill="#2d1c1f"/><path d="M5.4 4.6c1-1.6 2.6-2.4 4.2-2.4 1.6 0 2.8 0.5 3.6 1.7-1.2-0.1-2.3-0.4-3-0.9-1.2 0.9-3.2 1.4-4.8 1.6z" fill="#3a2626"/><ellipse cx="7.6" cy="7.5" rx="1.1" ry="0.5" fill="#a8857e"/><ellipse cx="11.3" cy="7.3" rx="1.1" ry="0.5" fill="#a8857e"/><ellipse cx="9.4" cy="11.1" rx="1.5" ry="0.45" fill="#c4948b"/></g></svg></div><div class="rt" style="left:421px">Lena B…</div><div class="dot" style="background:#f59a23"></div><div class="rt" style="left:515px">В работе</div></div>
<div class="hl" style="left:246px;top:671px;width:632px;background:#dadadc"></div>
<div class="row" style="top:671px"><div class="exp" style="left:33px;top:9.5px"></div><div class="rt b" style="left:57px;top:10px">CTR Optimization</div><svg class="ic" style="left:360px;top:8px" width="16" height="16" viewBox="0 0 16 16"><circle cx="7.900" cy="7.900" r="6.500" fill="none" stroke="#adadad" stroke-width="1"/><rect x="7" y="6.600" width="1.800" height="4.500" fill="#b0b0b0"/><rect x="7" y="4.800" width="1.800" height="1" fill="#b0b0b0"/></svg><svg class="ic" style="left:600px;top:7px" width="16" height="16" viewBox="0 0 16 16" fill="none" stroke="#b6b6b6" stroke-width="0.9" stroke-linejoin="round"><path d="M6.74 2.96 L6.95 1.38 L9.05 1.38 L9.26 2.96 L10.67 3.54 L11.94 2.58 L13.42 4.06 L12.46 5.33 L13.04 6.74 L14.62 6.95 L14.62 9.05 L13.04 9.26 L12.46 10.67 L13.42 11.94 L11.94 13.42 L10.67 12.46 L9.26 13.04 L9.05 14.62 L6.95 14.62 L6.74 13.04 L5.33 12.46 L4.06 13.42 L2.58 11.94 L3.54 10.67 L2.96 9.26 L1.38 9.05 L1.38 6.95 L2.96 6.74 L3.54 5.33 L2.58 4.06 L4.06 2.58 L5.33 3.54Z"/><circle cx="8" cy="8" r="2.6"/></svg></div>
<div class="row" style="top:701px"><div class="rt" style="left:73px">Edit Meta &amp; track</div><svg class="ic" style="left:360px;top:7px" width="16" height="16" viewBox="0 0 16 16"><circle cx="7.900" cy="7.900" r="6.500" fill="none" stroke="#adadad" stroke-width="1"/><rect x="7" y="6.600" width="1.800" height="4.500" fill="#b0b0b0"/><rect x="7" y="4.800" width="1.800" height="1" fill="#b0b0b0"/></svg><svg class="ic" style="left:600px;top:7px" width="16" height="16" viewBox="0 0 16 16" fill="none" stroke="#b6b6b6" stroke-width="0.9" stroke-linejoin="round"><path d="M6.74 2.96 L6.95 1.38 L9.05 1.38 L9.26 2.96 L10.67 3.54 L11.94 2.58 L13.42 4.06 L12.46 5.33 L13.04 6.74 L14.62 6.95 L14.62 9.05 L13.04 9.26 L12.46 10.67 L13.42 11.94 L11.94 13.42 L10.67 12.46 L9.26 13.04 L9.05 14.62 L6.95 14.62 L6.74 13.04 L5.33 12.46 L4.06 13.42 L2.58 11.94 L3.54 10.67 L2.96 9.26 L1.38 9.05 L1.38 6.95 L2.96 6.74 L3.54 5.33 L2.58 4.06 L4.06 2.58 L5.33 3.54Z"/><circle cx="8" cy="8" r="2.6"/></svg><div class="ic av" style="left:397px;top:5px"><svg width="20" height="20" viewBox="0 0 20 20"><rect width="20" height="20" fill="#e2dfe1"/><g filter="url(#bl)"><path d="M9.8 0.2C6 0.2 4.3 3.2 4.1 6.6c-0.2 3.4 0 5.4-0.9 7.4-1.2 2.4-0.6 4.6 1.8 5.6h11c2.4-1 2.8-3.6 2.2-6-0.6-2.6-0.4-5-1.2-7.8C16.2 2.4 13.6 0.2 9.8 0.2z" fill="#2d1c1f"/><path d="M7.2 12.4h5.4V20H6.8z" fill="#dcab9e"/><ellipse cx="9.4" cy="8.1" rx="4.5" ry="5.9" fill="#e3baad"/><ellipse cx="9.5" cy="8.8" rx="3" ry="3.9" fill="#efd3c9"/><path d="M13 2.6c1 2.4 1.1 8.2 0.2 11.6l1.2 0.4c1.2-4 0.8-9.6-0.4-12.2z" fill="#2d1c1f"/><path d="M5.4 4.6c1-1.6 2.6-2.4 4.2-2.4 1.6 0 2.8 0.5 3.6 1.7-1.2-0.1-2.3-0.4-3-0.9-1.2 0.9-3.2 1.4-4.8 1.6z" fill="#3a2626"/><ellipse cx="7.6" cy="7.5" rx="1.1" ry="0.5" fill="#a8857e"/><ellipse cx="11.3" cy="7.3" rx="1.1" ry="0.5" fill="#a8857e"/><ellipse cx="9.4" cy="11.1" rx="1.5" ry="0.45" fill="#c4948b"/></g></svg></div><div class="rt" style="left:421px">Lena B…</div><div class="dot" style="background:#4fbad4"></div><div class="rt" style="left:515px">Выполне…</div></div>
<div class="row" style="top:731px"><div class="rt" style="left:73px">Snippets</div><svg class="ic" style="left:360px;top:7px" width="16" height="16" viewBox="0 0 16 16"><circle cx="7.900" cy="7.900" r="6.500" fill="none" stroke="#adadad" stroke-width="1"/><rect x="7" y="6.600" width="1.800" height="4.500" fill="#b0b0b0"/><rect x="7" y="4.800" width="1.800" height="1" fill="#b0b0b0"/></svg><svg class="ic" style="left:600px;top:7px" width="16" height="16" viewBox="0 0 16 16" fill="none" stroke="#b6b6b6" stroke-width="0.9" stroke-linejoin="round"><path d="M6.74 2.96 L6.95 1.38 L9.05 1.38 L9.26 2.96 L10.67 3.54 L11.94 2.58 L13.42 4.06 L12.46 5.33 L13.04 6.74 L14.62 6.95 L14.62 9.05 L13.04 9.26 L12.46 10.67 L13.42 11.94 L11.94 13.42 L10.67 12.46 L9.26 13.04 L9.05 14.62 L6.95 14.62 L6.74 13.04 L5.33 12.46 L4.06 13.42 L2.58 11.94 L3.54 10.67 L2.96 9.26 L1.38 9.05 L1.38 6.95 L2.96 6.74 L3.54 5.33 L2.58 4.06 L4.06 2.58 L5.33 3.54Z"/><circle cx="8" cy="8" r="2.6"/></svg><div class="ic" style="left:397px;top:5px;width:20px;height:20px;border-radius:50%;background:#cfcfcf;color:#ececec;font-size:9px;line-height:20px;text-align:center">K</div><div class="rt" style="left:421px">Karina</div><div class="dot" style="background:#2fa36b"></div><div class="rt" style="left:515px">Закрыт</div></div>
<div class="row" style="top:761px"><div class="exp" style="left:48px"></div><div class="rt" style="left:72px">Adwords campaign</div><svg class="ic" style="left:360px;top:7px" width="16" height="16" viewBox="0 0 16 16"><circle cx="7.900" cy="7.900" r="6.500" fill="none" stroke="#adadad" stroke-width="1"/><rect x="7" y="6.600" width="1.800" height="4.500" fill="#b0b0b0"/><rect x="7" y="4.800" width="1.800" height="1" fill="#b0b0b0"/></svg><svg class="ic" style="left:600px;top:7px" width="16" height="16" viewBox="0 0 16 16" fill="none" stroke="#b6b6b6" stroke-width="0.9" stroke-linejoin="round"><path d="M6.74 2.96 L6.95 1.38 L9.05 1.38 L9.26 2.96 L10.67 3.54 L11.94 2.58 L13.42 4.06 L12.46 5.33 L13.04 6.74 L14.62 6.95 L14.62 9.05 L13.04 9.26 L12.46 10.67 L13.42 11.94 L11.94 13.42 L10.67 12.46 L9.26 13.04 L9.05 14.62 L6.95 14.62 L6.74 13.04 L5.33 12.46 L4.06 13.42 L2.58 11.94 L3.54 10.67 L2.96 9.26 L1.38 9.05 L1.38 6.95 L2.96 6.74 L3.54 5.33 L2.58 4.06 L4.06 2.58 L5.33 3.54Z"/><circle cx="8" cy="8" r="2.6"/></svg></div>
<div class="row" style="top:791px"><div class="rt" style="left:88px">Adwords - Select pages</div><svg class="ic" style="left:360px;top:7px" width="16" height="16" viewBox="0 0 16 16"><circle cx="7.900" cy="7.900" r="6.500" fill="none" stroke="#adadad" stroke-width="1"/><rect x="7" y="6.600" width="1.800" height="4.500" fill="#b0b0b0"/><rect x="7" y="4.800" width="1.800" height="1" fill="#b0b0b0"/></svg><svg class="ic" style="left:600px;top:7px" width="16" height="16" viewBox="0 0 16 16" fill="none" stroke="#b6b6b6" stroke-width="0.9" stroke-linejoin="round"><path d="M6.74 2.96 L6.95 1.38 L9.05 1.38 L9.26 2.96 L10.67 3.54 L11.94 2.58 L13.42 4.06 L12.46 5.33 L13.04 6.74 L14.62 6.95 L14.62 9.05 L13.04 9.26 L12.46 10.67 L13.42 11.94 L11.94 13.42 L10.67 12.46 L9.26 13.04 L9.05 14.62 L6.95 14.62 L6.74 13.04 L5.33 12.46 L4.06 13.42 L2.58 11.94 L3.54 10.67 L2.96 9.26 L1.38 9.05 L1.38 6.95 L2.96 6.74 L3.54 5.33 L2.58 4.06 L4.06 2.58 L5.33 3.54Z"/><circle cx="8" cy="8" r="2.6"/></svg><div class="ic av" style="left:397px;top:5px"><svg width="20" height="20" viewBox="0 0 20 20"><rect width="20" height="20" fill="#e2dfe1"/><g filter="url(#bl)"><path d="M9.8 0.2C6 0.2 4.3 3.2 4.1 6.6c-0.2 3.4 0 5.4-0.9 7.4-1.2 2.4-0.6 4.6 1.8 5.6h11c2.4-1 2.8-3.6 2.2-6-0.6-2.6-0.4-5-1.2-7.8C16.2 2.4 13.6 0.2 9.8 0.2z" fill="#2d1c1f"/><path d="M7.2 12.4h5.4V20H6.8z" fill="#dcab9e"/><ellipse cx="9.4" cy="8.1" rx="4.5" ry="5.9" fill="#e3baad"/><ellipse cx="9.5" cy="8.8" rx="3" ry="3.9" fill="#efd3c9"/><path d="M13 2.6c1 2.4 1.1 8.2 0.2 11.6l1.2 0.4c1.2-4 0.8-9.6-0.4-12.2z" fill="#2d1c1f"/><path d="M5.4 4.6c1-1.6 2.6-2.4 4.2-2.4 1.6 0 2.8 0.5 3.6 1.7-1.2-0.1-2.3-0.4-3-0.9-1.2 0.9-3.2 1.4-4.8 1.6z" fill="#3a2626"/><ellipse cx="7.6" cy="7.5" rx="1.1" ry="0.5" fill="#a8857e"/><ellipse cx="11.3" cy="7.3" rx="1.1" ry="0.5" fill="#a8857e"/><ellipse cx="9.4" cy="11.1" rx="1.5" ry="0.45" fill="#c4948b"/></g></svg></div><div class="rt" style="left:421px">Lena B…</div><div class="dot" style="background:#a3a3a5"></div><div class="rt" style="left:515px">Открыт</div></div>
<div class="row" style="top:821px"><div class="rt" style="left:88px">Adwords - Keys</div><svg class="ic" style="left:360px;top:7px" width="16" height="16" viewBox="0 0 16 16"><circle cx="7.900" cy="7.900" r="6.500" fill="none" stroke="#adadad" stroke-width="1"/><rect x="7" y="6.600" width="1.800" height="4.500" fill="#b0b0b0"/><rect x="7" y="4.800" width="1.800" height="1" fill="#b0b0b0"/></svg><svg class="ic" style="left:600px;top:7px" width="16" height="16" viewBox="0 0 16 16" fill="none" stroke="#b6b6b6" stroke-width="0.9" stroke-linejoin="round"><path d="M6.74 2.96 L6.95 1.38 L9.05 1.38 L9.26 2.96 L10.67 3.54 L11.94 2.58 L13.42 4.06 L12.46 5.33 L13.04 6.74 L14.62 6.95 L14.62 9.05 L13.04 9.26 L12.46 10.67 L13.42 11.94 L11.94 13.42 L10.67 12.46 L9.26 13.04 L9.05 14.62 L6.95 14.62 L6.74 13.04 L5.33 12.46 L4.06 13.42 L2.58 11.94 L3.54 10.67 L2.96 9.26 L1.38 9.05 L1.38 6.95 L2.96 6.74 L3.54 5.33 L2.58 4.06 L4.06 2.58 L5.33 3.54Z"/><circle cx="8" cy="8" r="2.6"/></svg><div class="ic av" style="left:397px;top:5px"><svg width="20" height="20" viewBox="0 0 20 20"><rect width="20" height="20" fill="#e2dfe1"/><g filter="url(#bl)"><path d="M9.8 0.2C6 0.2 4.3 3.2 4.1 6.6c-0.2 3.4 0 5.4-0.9 7.4-1.2 2.4-0.6 4.6 1.8 5.6h11c2.4-1 2.8-3.6 2.2-6-0.6-2.6-0.4-5-1.2-7.8C16.2 2.4 13.6 0.2 9.8 0.2z" fill="#2d1c1f"/><path d="M7.2 12.4h5.4V20H6.8z" fill="#dcab9e"/><ellipse cx="9.4" cy="8.1" rx="4.5" ry="5.9" fill="#e3baad"/><ellipse cx="9.5" cy="8.8" rx="3" ry="3.9" fill="#efd3c9"/><path d="M13 2.6c1 2.4 1.1 8.2 0.2 11.6l1.2 0.4c1.2-4 0.8-9.6-0.4-12.2z" fill="#2d1c1f"/><path d="M5.4 4.6c1-1.6 2.6-2.4 4.2-2.4 1.6 0 2.8 0.5 3.6 1.7-1.2-0.1-2.3-0.4-3-0.9-1.2 0.9-3.2 1.4-4.8 1.6z" fill="#3a2626"/><ellipse cx="7.6" cy="7.5" rx="1.1" ry="0.5" fill="#a8857e"/><ellipse cx="11.3" cy="7.3" rx="1.1" ry="0.5" fill="#a8857e"/><ellipse cx="9.4" cy="11.1" rx="1.5" ry="0.45" fill="#c4948b"/></g></svg></div><div class="rt" style="left:421px">Lena B…</div><div class="dot" style="background:#a3a3a5"></div><div class="rt" style="left:515px">Открыт</div></div>
<div class="abs" style="left:879px;top:141px;width:468px;height:6px;background:linear-gradient(#d3d3d4 0,#d3d3d4 50%,#dcdade 50%,#dcdade 100%)"></div>
<div class="abs" style="left:1346px;top:138px;width:3px;height:12px;background:#d2d2d4"></div>
<svg class="abs" style="left:887px;top:165px" width="322" height="22" viewBox="0 0 322 22"><rect x="0" y="0" width="322" height="22" rx="2" fill="url(#pg1)"/><path d="M0 9.5L7 21H0z" fill="#fcc67c" opacity="0.55"/><path d="M100 8.5H311L321 21H100z" fill="url(#pg2)"/><path d="M310.5 8.5H322V21H321z" fill="#fcc77e"/><rect x="0.5" y="0.5" width="321" height="21" rx="2" fill="none" stroke="#e6c998" stroke-opacity="0.5"/><rect x="1" y="21" width="320" height="1" fill="#e8cfa4"/></svg>
<div class="bl" style="left:1228px;top:170px;color:#ee9a3a">Capterra</div>
<div class="bar dk" style="left:1013px;top:225px;width:42px"></div>
<div class="bl" style="left:1074px;top:230px">Reviews - Сделать рассылку</div>
<div class="bar dk" style="left:887px;top:255px;width:84px"></div>
<div class="bl" style="left:990px;top:260px">PPC - how to improve conversion?</div>
<div class="bar dk" style="left:901px;top:285px;width:70px"></div>
<div class="bl" style="left:990px;top:290px">New bids</div>
<div class="bar lt" style="left:943px;top:315px;width:266px"></div>
<div class="bl" style="left:1228px;top:320px">Adjust new bids</div>
<div class="bar lt" style="left:943px;top:345px;width:210px"></div>
<div class="bl" style="left:1172px;top:350px">Track emailing campaign</div>
<svg class="abs" style="left:943px;top:375px" width="238" height="22" viewBox="0 0 238 22"><rect x="0" y="0" width="238" height="22" rx="2" fill="#fcc87f"/><path d="M11 11H227L237 21H1z" fill="#feeedc"/><rect x="0.5" y="0.5" width="237" height="21" rx="2" fill="none" stroke="#ecd0a2" stroke-opacity="0.45"/><rect x="1" y="21" width="236" height="1" fill="#ecd0a2"/></svg>
<div class="bl" style="left:1200px;top:380px;color:#ee9a3a">Webinars</div>
<div class="bar lt" style="left:957px;top:405px;width:140px"></div>
<div class="bl" style="left:1116px;top:410px">Изучить инфу по вебинарам на Clicktomeeting</div>
<div class="bar lt" style="left:943px;top:435px;width:238px"></div>
<div class="bl" style="left:1200px;top:440px">Придумать как расширять аудиторию</div>
<svg class="abs" style="left:887px;top:465px" width="308" height="22" viewBox="0 0 308 22"><rect x="0" y="0" width="308" height="22" rx="2" fill="#fcc87f"/><path d="M11 11H51V21H1z" fill="#fddfb4"/><path d="M51 11H297L307 21H51z" fill="#feeedc"/><rect x="0.5" y="0.5" width="307" height="21" rx="2" fill="none" stroke="#ecd0a2" stroke-opacity="0.45"/><rect x="1" y="21" width="306" height="1" fill="#ecd0a2"/></svg>
<div class="bl" style="left:1214px;top:470px;color:#ee9a3a">Link Building</div>
<div class="bar lt" style="left:943px;top:495px;width:70px"></div>
<div class="bl" style="left:1032px;top:500px">Изучить причины падения трафика и позиций</div>
<div class="bar lt" style="left:887px;top:525px;width:280px"></div>
<div class="bar dk" style="left:887px;top:525px;width:140px;border-radius:2px 0 0 2px"></div>
<div class="bl" style="left:1186px;top:530px">GP Backling bank</div>
<div class="bar lt" style="left:929px;top:555px;width:266px"></div>
<div class="bl" style="left:1214px;top:560px">Найти списки и купить место в списках</div>
<div class="bar lt" style="left:887px;top:585px;width:140px"></div>
<div class="bl" style="left:1046px;top:590px">1-10 links</div>
<div class="bar lt" style="left:1041px;top:615px;width:126px"></div>
<div class="bl" style="left:1186px;top:620px">11-20 links</div>
<div class="bar lt" style="left:887px;top:645px;width:14px"></div>
<div class="bar dk" style="left:887px;top:645px;width:7px;border-radius:2px 0 0 2px"></div>
<div class="bl" style="left:920px;top:650px">Journalists hints research</div>
<svg class="abs" style="left:887px;top:675px" width="308" height="22" viewBox="0 0 308 22"><rect x="0" y="0" width="308" height="22" rx="2" fill="#fcc87f"/><path d="M11 11H182V21H1z" fill="#fddfb4"/><path d="M182 11H297L307 21H182z" fill="#feeedc"/><rect x="0.5" y="0.5" width="307" height="21" rx="2" fill="none" stroke="#ecd0a2" stroke-opacity="0.45"/><rect x="1" y="21" width="306" height="1" fill="#ecd0a2"/></svg>
<div class="bl" style="left:1214px;top:680px;color:#ee9a3a">CTR Optimization</div>
<div class="bar dk" style="left:887px;top:705px;width:140px"></div>
<div class="bl" style="left:1046px;top:710px">Edit Meta &amp; track</div>
<div class="bar dk" style="left:887px;top:735px;width:308px"></div>
<div class="bl" style="left:1214px;top:740px">Snippets</div>
<svg class="abs" style="left:887px;top:765px" width="308" height="22" viewBox="0 0 308 22"><rect x="0" y="0" width="308" height="22" rx="2" fill="#8ec190"/><path d="M11 11H297L307 21H1z" fill="#dcecdc"/><rect x="0.5" y="0.5" width="307" height="21" rx="2" fill="none" stroke="#86b888" stroke-opacity="0.45"/><rect x="1" y="21" width="306" height="1" fill="#86b888"/></svg>
<div class="bl" style="left:1214px;top:770px;color:#64927e">Adwords campaign</div>
<div class="bar lt" style="left:887px;top:795px;width:112px"></div>
<div class="bl" style="left:1018px;top:800px">Adwords - Select pages</div>
<div class="bar lt" style="left:887px;top:825px;width:112px"></div>
<div class="bl" style="left:1018px;top:830px">Adwords - Keys</div>
<svg class="abs" style="left:1046px;top:226px" width="18" height="22" viewBox="0 0 18 22"><circle cx="11" cy="12.4" r="8" fill="#fff"/><path d="M12.4 2.200C13.200 5 16.200 8.500 16.200 13C16.200 16.600 13.800 19 10.800 19C7.600 19 5 16.600 5 13.200C5 10.400 6.400 8.400 7 6.200C7.800 7.200 8.200 8 8.600 9C9.800 7 11.600 4.800 12.400 2.200Z" fill="#e8903a"/><path d="M8.400 10.600c-1 1.600-1.600 3-1.200 4.600 0.400 1.600 1.800 2.600 3.400 2.600-1.400-1-2-2.200-2-3.600 0-1.200 0.200-2.400-0.200-3.600z" fill="#f3ad60"/></svg>
<div class="abs" style="left:981px;top:199px;width:14px;height:14px;border-radius:50%;background:#ebe9ee;border:1px solid #9a927e"></div>
<div class="abs" style="left:1017px;top:199px;width:14px;height:14px;border-radius:50%;background:#ebe9ee;border:1px solid #9a927e"></div>
<div class="abs" style="left:999px;top:194px;width:14px;height:24px;border-radius:2px;background:#2d9cb8;border:1px dotted #6fd3c8"></div>
<svg class="abs" style="left:1003px;top:200px" width="8" height="13" viewBox="0 0 8 13"><path d="M1.5 0v12M3.600 0v12M5.700 0v12" stroke="#b9f3f4" stroke-width="1"/></svg>
<svg class="abs" style="left:1003px;top:209px" width="18" height="11" viewBox="0 0 18 11"><path d="M1.600 10V8.300L9 1.300L16.400 8.300V10z" fill="#efeaf0" stroke="#948d80" stroke-width="0.9" stroke-linejoin="round"/></svg>
<div class="bl" style="left:1032px;top:200px">Reviews - Выгрузить новых юзеров за апрель</div>
<div class="abs" style="left:887px;top:855px;width:308px;height:4px;background:#2b9ab6;border-radius:2px 2px 0 0"></div>
<div class="abs" style="left:877px;top:837px;width:37px;height:22px;background:#fefefe;box-shadow:0 0 2px rgba(0,0,0,0.06)"></div>
<div class="hl" style="left:878px;top:836px;width:9px;background:#d4d4d6"></div>
<svg class="abs" style="left:884px;top:840px" width="24" height="16" viewBox="884 840 24 16" fill="none" stroke="#d0cfd3" stroke-width="1.5" stroke-linejoin="miter"><path d="M896.800 843.400L887.600 851.400L896.800 859.400"/><path d="M903.300 845.400L895 852.100L903.300 859V845.400z"/></svg>
</body></html>
